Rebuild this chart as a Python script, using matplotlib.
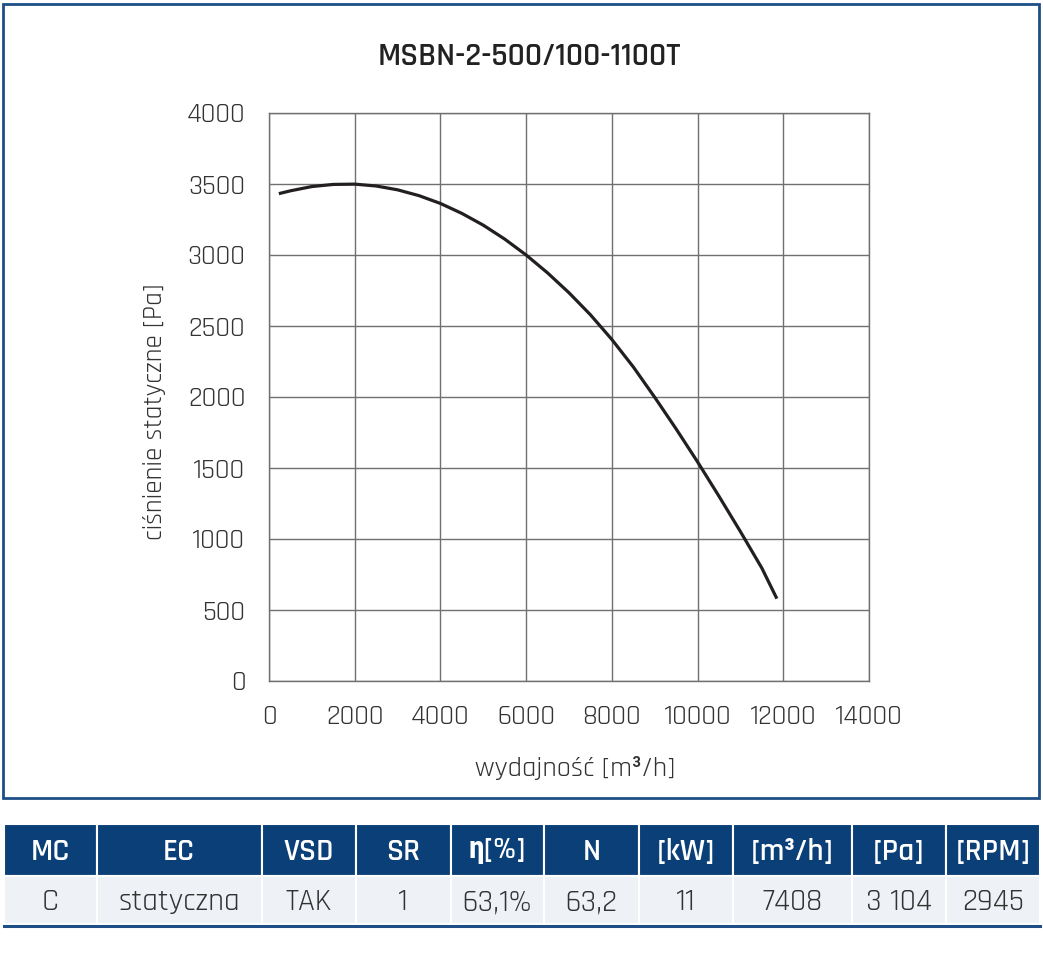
import matplotlib
matplotlib.use('Agg')
import matplotlib.pyplot as plt
from matplotlib.patches import Rectangle

plt.rcParams['font.family'] = ['Rajdhani', 'Roboto Condensed', 'DejaVu Sans']

# fan curve
flow = [230, 500, 1000, 1500, 2000, 2500, 3000, 3500, 4000, 4500, 5000, 5500, 6000, 6500,
        7000, 7500, 8000, 8500, 9000, 9500, 10000, 10500, 11000, 11500, 11850]
pressure = [3432, 3452, 3482, 3497, 3499, 3486, 3459, 3418, 3363, 3293, 3210, 3112, 3000, 2874,
            2734, 2579, 2405, 2212, 1998, 1775, 1543, 1301, 1052, 795, 580]

x_ticks = [0, 2000, 4000, 6000, 8000, 10000, 12000, 14000]
y_ticks = [0, 500, 1000, 1500, 2000, 2500, 3000, 3500, 4000]

title = 'MSBN-2-500/100-1100T'
xlabel = 'wydajność [m³/h]'
ylabel = 'ciśnienie statyczne [Pa]'

headers = ['MC', 'EC', 'VSD', 'SR', 'η[%]', 'N', '[kW]', '[m³/h]', '[Pa]', '[RPM]']
values = ['C', 'statyczna', 'TAK', '1', '63,1%', '63,2', '11', '7408', '3 104', '2945']
col_edges = [4, 96.5, 261.5, 356, 450.5, 544, 639, 732.5, 852, 946, 1040]

blue = '#0a3f78'
W, H = 1043, 957

fig = plt.figure(figsize=(W / 100, H / 100), dpi=100)

# background layer in pixel coords: frame + table
bg = fig.add_axes([0, 0, 1, 1])
bg.set_xlim(0, W)
bg.set_ylim(H, 0)
bg.axis('off')

bg.add_patch(Rectangle((3, 4), 1036, 794, fill=False, edgecolor='#1d4f86', linewidth=2))

hdr_top, hdr_bot, row_bot = 824, 876, 924
for i in range(len(headers)):
    x0, x1 = col_edges[i], col_edges[i + 1]
    bg.add_patch(Rectangle((x0, hdr_top), x1 - x0, hdr_bot - hdr_top, facecolor=blue, edgecolor='white', linewidth=1.5))
    bg.add_patch(Rectangle((x0, hdr_bot), x1 - x0, row_bot - hdr_bot, facecolor='#eef1f6', edgecolor='white', linewidth=1.5))
    xc = (x0 + x1) / 2
    bg.text(xc, (hdr_top + hdr_bot) / 2 + 1, headers[i], color='white', fontsize=22.5, fontweight='semibold',
            ha='center', va='center')
    bg.text(xc, (hdr_bot + row_bot) / 2 + 1, values[i], color='#333333', fontsize=22.5,
            ha='center', va='center')
bg.plot([col_edges[0], col_edges[-1]], [row_bot + 1.5, row_bot + 1.5], color='#1d4f86', linewidth=2.2)

# main chart
ax = fig.add_axes([269 / W, 1 - 681 / H, 600 / W, 568 / H])
ax.plot(flow, pressure, color='#231f20', linewidth=2.3, solid_capstyle='butt')
ax.set_xlim(0, 14000)
ax.set_ylim(0, 4000)
ax.set_xticks(x_ticks)
ax.set_yticks(y_ticks)
ax.grid(True, color='#707070', linewidth=1.0)
ax.set_axisbelow(True)
for s in ax.spines.values():
    s.set_color('#707070')
    s.set_linewidth(1.0)
ax.tick_params(length=0, labelsize=20.5, colors='#333333', pad=17)
ax.tick_params(axis='x', pad=17)
ax.set_xlabel(xlabel, fontsize=20.5, color='#333333')
ax.set_ylabel(ylabel, fontsize=19.5, color='#333333')
ax.xaxis.set_label_coords(0.51, -(768 - 681) / 568, transform=ax.transAxes)
ax.yaxis.set_label_coords(-(269 - 155) / 600, (681 - 412) / 568, transform=ax.transAxes)
ax.xaxis.label.set_va('center')
ax.yaxis.label.set_va('center')

fig.text(529 / W, 1 - 56 / H, title, fontsize=23.5, fontweight='semibold', color='#222222', ha='center', va='center')

fig.savefig('out.png', dpi=100)
